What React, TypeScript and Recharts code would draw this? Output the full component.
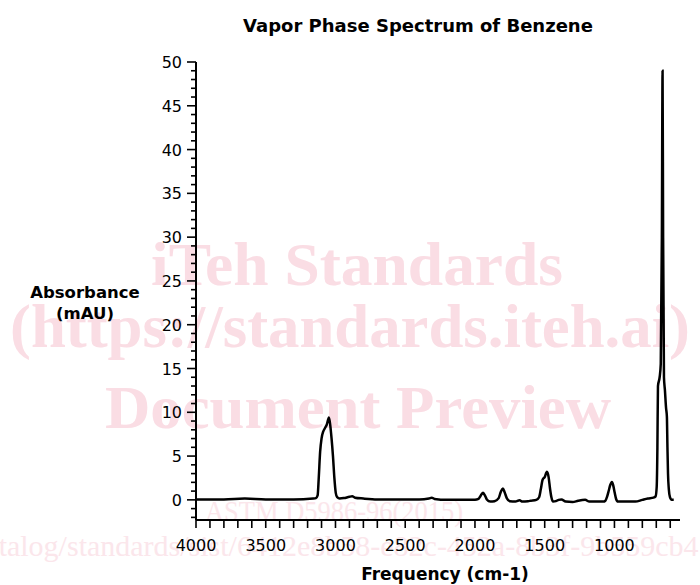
import { CartesianGrid, Line, LineChart, XAxis, YAxis } from "recharts";

// spectrum, frequency in cm-1 (high -> low)
const FREQ = [
  3995, 3800, 3650, 3500, 3300, 3160, 3140, 3128, 3120, 3110, 3100, 3088, 3075, 3062, 3047, 3038, 3028, 3018, 3008, 2998,
  2988, 2970, 2940, 2900, 2880, 2860, 2800, 2700, 2500, 2400, 2330, 2310, 2290, 2200, 2050, 2000, 1975, 1960, 1943, 1930,
  1915, 1890, 1860, 1830, 1815, 1800, 1788, 1772, 1750, 1710, 1680, 1660, 1620, 1600, 1560, 1540, 1528, 1515, 1500, 1484,
  1472, 1462, 1452, 1440, 1420, 1400, 1380, 1350, 1300, 1260, 1210, 1180, 1120, 1080, 1065, 1052, 1040, 1030, 1018, 1008,
  998, 988, 975, 900, 850, 800, 760, 720, 705, 697, 692, 688, 676, 668, 660, 655, 651, 645, 638, 630,
  624, 620, 616, 610, 602, 590, 575
];
const ABSORBANCE = [
  0.05, 0.05, 0.15, 0.05, 0.05, 0.15, 0.2, 0.5, 2.5, 5.5, 7.0, 7.8, 8.2, 8.6, 9.4, 8.6, 7.0, 5.0, 2.5, 0.8,
  0.3, 0.15, 0.2, 0.35, 0.4, 0.25, 0.15, 0.05, 0.05, 0.05, 0.15, 0.25, 0.1, 0.0, 0.0, 0.0, 0.1, 0.45, 0.8, 0.55,
  0.05, -0.2, -0.15, 0.2, 0.9, 1.3, 0.9, 0.2, -0.15, -0.2, -0.05, -0.2, -0.15, -0.1, 0.0, 0.3, 1.2, 2.3, 2.6, 3.2,
  2.6, 1.3, 0.3, -0.2, -0.15, 0.0, 0.05, -0.2, -0.25, -0.1, 0.0, -0.2, -0.2, -0.2, -0.1, 0.4, 1.1, 1.7, 2.05, 1.6,
  0.8, 0.1, -0.2, -0.2, -0.2, 0.0, 0.15, 0.25, 0.4, 1.5, 6, 13, 14, 15.5, 30, 49, 30, 14, 12.5, 10.5,
  9.5, 6, 3, 1.2, 0.3, 0.0, 0.0
];

const X_MAJOR = [4000, 3500, 3000, 2500, 2000, 1500, 1000];
const Y_MAJOR = [0, 5, 10, 15, 20, 25, 30, 35, 40, 45, 50];
const X_TICKS: number[] = [];
for (let v = 4000; v >= 600; v -= 100) X_TICKS.push(v);
const Y_TICKS: number[] = [];
for (let v = -2; v <= 50; v += 1) Y_TICKS.push(v);

const data = FREQ.map((f, i) => ({ freq: f, abs: ABSORBANCE[i] }));

const FONT = "'DejaVu Sans', Verdana, sans-serif";
const SERIF = "'Liberation Serif', 'Times New Roman', serif";
const PINK = "#fadde4";
const PINK_LIGHT = "#fbe6eb";

function YTick(props: any) {
  const { x, y, payload } = props;
  const major = Y_MAJOR.includes(payload.value);
  return (
    <g>
      <line x1={x - (major ? 9 : 5)} x2={x} y1={y} y2={y} stroke="#000" strokeWidth={1.6} />
      {major && (
        <text x={x - 14} y={y} dy={6} textAnchor="end" fontSize={16} fontFamily={FONT} fill="#000">
          {payload.value}
        </text>
      )}
    </g>
  );
}

function XTick(props: any) {
  const { x, y, payload } = props;
  const major = X_MAJOR.includes(payload.value);
  return (
    <g>
      <line x1={x} x2={x} y1={y} y2={y + 8} stroke="#000" strokeWidth={1.6} />
      {major && (
        <text x={x} y={y + 31} textAnchor="middle" fontSize={16} fontFamily={FONT} fill="#000">
          {payload.value}
        </text>
      )}
    </g>
  );
}

export default function App() {
  return (
    <div style={{ position: "fixed", left: 0, top: 0, width: 700, height: 585, background: "#fff" }}>
      <svg width={700} height={585} style={{ position: "absolute", left: 0, top: 0 }}>
        {/* watermark of the source page, behind the chart */}
        <g fill={PINK} fontFamily={SERIF} fontWeight="bold">
          <text x={357} y={285} textAnchor="middle" fontSize={62} textLength={412} lengthAdjust="spacingAndGlyphs">iTeh Standards</text>
          <text x={350} y={347} textAnchor="middle" fontSize={62} textLength={680} lengthAdjust="spacingAndGlyphs">(https://standards.iteh.ai)</text>
          <text x={358} y={428} textAnchor="middle" fontSize={62} textLength={506} lengthAdjust="spacingAndGlyphs">Document Preview</text>
        </g>
        <g fill={PINK_LIGHT} fontFamily={SERIF}>
          <text x={205} y={521} fontSize={30} textLength={258} lengthAdjust="spacingAndGlyphs">ASTM D5986-96(2015)</text>
          <text x={-28} y={556} fontSize={30}>catalog/standards/sist/6412e8b58-e82c-452a-8b3f-9b559cb4</text>
        </g>
        <text x={418} y={32} textAnchor="middle" fontSize={18} fontWeight="bold" fontFamily={FONT} fill="#000">
          Vapor Phase Spectrum of Benzene
        </text>
        <text x={85} y={298} textAnchor="middle" fontSize={16.5} fontWeight="bold" fontFamily={FONT} fill="#000">Absorbance</text>
        <text x={85} y={319} textAnchor="middle" fontSize={16.5} fontWeight="bold" fontFamily={FONT} fill="#000">(mAU)</text>
        <text x={445} y={580} textAnchor="middle" fontSize={17} fontWeight="bold" fontFamily={FONT} fill="#000">Frequency (cm-1)</text>
      </svg>
      <div style={{ position: "absolute", left: 0, top: 0 }}>
        <LineChart width={700} height={585} data={data} margin={{ top: 62, right: 20, left: 136, bottom: 25 }}>
          <CartesianGrid stroke="none" fill="none" />
          <XAxis
            dataKey="freq"
            type="number"
            domain={[530, 4000]}
            reversed
            allowDataOverflow
            ticks={X_TICKS}
            interval={0}
            height={40}
            tickSize={0}
            tickMargin={0}
            tickLine={false}
            axisLine={{ stroke: "#000", strokeWidth: 2 }}
            tick={<XTick />}
          />
          <YAxis
            type="number"
            domain={[-2.3, 50]}
            allowDataOverflow
            ticks={Y_TICKS}
            interval={0}
            width={60}
            tickSize={0}
            tickMargin={0}
            tickLine={false}
            axisLine={{ stroke: "#000", strokeWidth: 2 }}
            tick={<YTick />}
          />
          <Line
            type="monotone"
            dataKey="abs"
            stroke="#000"
            strokeWidth={2.5}
            dot={false}
            activeDot={false}
            isAnimationActive={false}
          />
        </LineChart>
      </div>
    </div>
  );
}
